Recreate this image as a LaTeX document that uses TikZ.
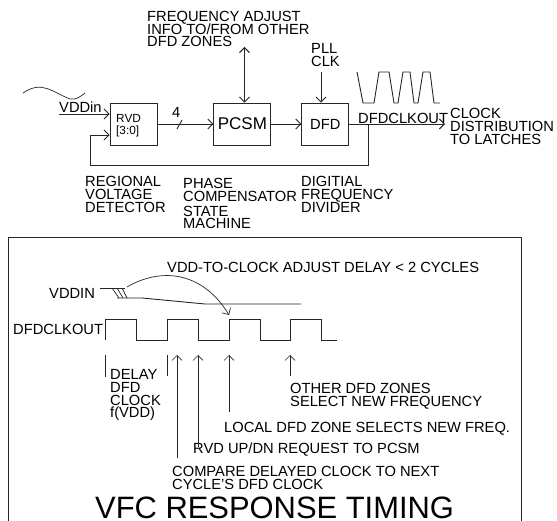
\documentclass[tikz,border=0pt]{standalone}
\usepackage{fontspec}
\setmainfont{Liberation Sans}
\usetikzlibrary{positioning, arrows.meta}

\begin{document}
\begin{tikzpicture}[
                x=1pt, y=-1pt,
                block/.style={draw=black!85, line width=0.9pt, rectangle, inner sep=0pt, minimum width=#1, minimum height=42pt, font=\fontsize{14.7}{13}\selectfont},
                varlabel/.style={anchor=north west, inner sep=0pt, align=left, font=\fontsize{14.7}{12.6}\selectfont, execute at begin node={\lineskiplimit=-20pt}},
                link/.style={draw=black!85, line width=0.9pt, -{Straight Barb[length=5pt,width=10pt]}},
                wire/.style={draw=black!85, line width=0.9pt},
                thinwire/.style={draw=black!85, line width=0.7pt}
            ]
            \useasboundingbox (0,0) rectangle (557,521);

            % Knoten
            \node[block=47pt] (rvd) at (133.5,124) {};
            \node[block=57pt, right=56pt of rvd] (pcsm) {\fontsize{17}{17}\selectfont PCSM};
            \node[block=47pt, right=30pt of pcsm] (dfd) {DFD};
            \node[inner sep=0pt, align=left, anchor=north west, font=\fontsize{11.8}{12}\selectfont] (rvdtext) at (116,114.5) {RVD\\{[3:0]}};

            % Beschriftung oben
            \node[varlabel] (freqlabel) at (147,11) {FREQUENCY ADJUST\\INFO TO/FROM OTHER\\DFD ZONES};
            \node[varlabel] (plllabel) at (311,43.5) {PLL\\CLK};
            \node[varlabel, anchor=base west] (vddlabel) at (59,113) {VDDin};
            \node[varlabel, anchor=base west] (buslabel) at (172,118) {4};
            \node[varlabel, anchor=base west] (clkoutlabel) at (358,124) {DFDCLKOUT};
            \node[varlabel] (latchlabel) at (450,108.5) {CLOCK\\DISTRIBUTION\\TO LATCHES};
            \node[varlabel] (rvdlabel) at (85,176.5) {REGIONAL\\VOLTAGE\\DETECTOR};
            \node[varlabel] (pcsmlabel) at (183,178.5) {PHASE\\COMPENSATOR\\[2pt]STATE\\MACHINE};
            \node[varlabel] (dfdlabel) at (301,176.5) {DIGITIAL\\FREQUENCY\\DIVIDER};

            % Kanten zwischen Knoten
            \coordinate (vddstart) at (59,114);
            \coordinate (freqend) at (244.5,47);
            \coordinate (pllend) at (321,72);
            \coordinate (clkend) at (445,124);
            \coordinate (tap) at (368,124);
            \draw[link] (vddstart) -- (vddstart -| rvd.west);
            \draw[link] (rvd.east) -- (pcsm.west);
            \draw[link] (pcsm.east) -- (dfd.west);
            \draw[link] (dfd.east) -- (clkend);
            \draw[link, {Straight Barb[length=5pt,width=10pt]}-{Straight Barb[length=5pt,width=10pt]}] (freqend) -- (freqend |- pcsm.north);
            \draw[link] (pllend) -- (pllend |- dfd.north);
            \draw[link] (tap) |- (90,165) |- ([yshift=-11pt]rvd.west);
            \draw[wire] (177,129) -- (182,120);

            % Kurven oben
            \draw[thinwire] (23,93) .. controls (42,80) and (52,92) .. (70,99) .. controls (76,100) and (80,97) .. (85,93);
            \draw[wire] (357,72) -- (363,103) -- (374,103) -- (379,72) -- (389,72) -- (394,103) -- (398,103) -- (403,72) -- (410,72) -- (414,103) -- (418,103) -- (423,72) -- (430,72) -- (434,103) -- (440,103);

            % Rahmen
            \draw[wire] (8,521) -- (8,237) -- (521,237) -- (521,521);

            % Signale
            \node[varlabel, anchor=base west] (vddinlabel) at (49,299) {VDDIN};
            \node[varlabel, anchor=base west] (clklabel) at (13,335) {DFDCLKOUT};
            \draw[wire] (100,288) -- (125,288);
            \draw[wire] (117,298) -- (142,298) -- (205,304) -- (301,304);
            \draw[thinwire] (112,288) -- (119,298);
            \draw[thinwire] (117,288) -- (123,298);
            \draw[thinwire] (122,288) -- (127,298);
            \draw[wire] (105,340) -- (105,319) -- (136,319) -- (136,340) -- (167,340) -- (167,319) -- (198,319) -- (198,340) -- (229,340) -- (229,319) -- (260,319) -- (260,340) -- (290,340) -- (290,319) -- (321,319) -- (321,340) -- (337,340);
            \draw[wire] (105,355) -- (105,377);
            \draw[wire] (167,355) -- (167,376);
            \draw[link, thinwire] (127,287) .. controls (165,265) and (205,275) .. (229,315);

            % Beschriftung unten
            \node[varlabel] (adjustlabel) at (167,262.5) {VDD-TO-CLOCK ADJUST DELAY < 2 CYCLES};
            \node[varlabel] (delaylabel) at (110,369.5) {DELAY\\DFD\\CLOCK\\f(VDD)};
            \node[varlabel] (otherlabel) at (290,383.5) {OTHER DFD ZONES\\SELECT NEW FREQUENCY};
            \node[varlabel] (locallabel) at (224,422.5) {LOCAL DFD ZONE SELECTS NEW FREQ.};
            \node[varlabel] (uplabel) at (193,442.5) {RVD UP/DN REQUEST TO PCSM};
            \node[varlabel] (comparelabel) at (172,466.5) {COMPARE DELAYED CLOCK TO NEXT\\CYCLE'S DFD CLOCK};
            \node[anchor=base west, inner sep=0pt, font=\fontsize{30.9}{32}\selectfont] (titlelabel) at (95,518) {VFC RESPONSE TIMING};

            % Pfeile
            \coordinate (otherend) at (290,376);
            \coordinate (localend) at (229,412);
            \coordinate (upend) at (198,447);
            \coordinate (compend) at (177,458);
            \draw[link, thinwire] (otherend) -- (290,355);
            \draw[link, thinwire] (localend) -- (229,355);
            \draw[link, thinwire] (upend) -- (198,355);
            \draw[link, thinwire] (compend) -- (177,355);

        \end{tikzpicture}
\end{document}
